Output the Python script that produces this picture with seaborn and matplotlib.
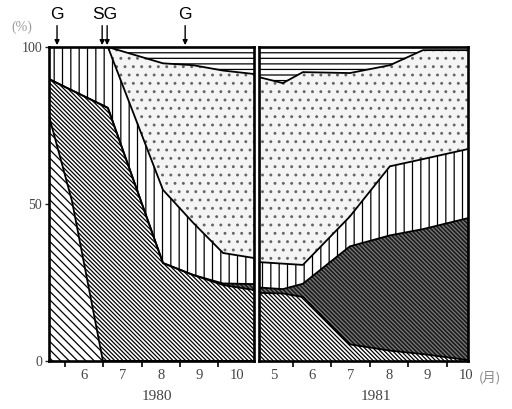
import numpy as np
import matplotlib
matplotlib.use("Agg")
import matplotlib.pyplot as plt
import matplotlib.transforms as mtransforms
import seaborn as sns

# ---------------- data (percent shares) ----------------
# 1980 panel: month position (6.0 = 1 June)
x_1980 = [5.58, 6.18, 6.99, 7.12, 8.56, 9.35, 10.13, 10.94]
a_1980 = [78.0, 51.0, 0.0, 0.0, 0.0, 0.0, 0.0, 0.0]          # sparse diagonal
b_1980 = [11.8, 35.2, 81.4, 80.6, 31.2, 27.4, 24.2, 22.6]    # dense diagonal
d_1980 = [0.0, 0.0, 0.0, 0.0, 0.0, 0.0, 0.5, 1.9]            # dark
c_1980 = [10.2, 13.8, 18.6, 19.4, 23.3, 16.6, 9.7, 8.3]      # vertical lines
s_1980 = [0.0, 0.0, 0.0, 0.0, 40.3, 50.2, 58.1, 58.6]        # dotted
e_1980 = [0.0, 0.0, 0.0, 0.0, 5.2, 5.8, 7.5, 8.6]            # horizontal lines

# 1981 panel
x_1981 = [5.12, 5.74, 6.26, 7.48, 8.52, 9.38, 10.55]
b_1981 = [21.7, 21.5, 20.4, 5.3, 3.3, 2.2, 0.3]
d_1981 = [1.7, 1.4, 4.2, 31.2, 36.7, 39.8, 45.2]
c_1981 = [8.1, 8.1, 6.0, 9.5, 22.0, 22.3, 22.0]
s_1981 = [58.9, 57.5, 61.4, 45.7, 32.2, 34.7, 31.5]
e_1981 = [9.6, 11.5, 8.0, 8.3, 5.8, 1.0, 1.0]

month_labels_1980 = ["6", "7", "8", "9", "10"]
month_labels_1981 = ["5", "6", "7", "8", "9", "10"]
year_labels = ["1980", "1981"]
y_ticks = [0, 50, 100]
markers = [("G", [5.79]), ("SG", [6.97, 7.10]), ("G", [9.14])]

# ---------------- style ----------------
sns.set_theme(style="white")
plt.rcParams["font.family"] = ["Liberation Serif", "DejaVu Sans"]
plt.rcParams["hatch.linewidth"] = 0.9

BS = "\\"
styles = {
    "a": dict(face="white", hatch=BS * 4, hc="black"),
    "b": dict(face="white", hatch=BS * 8, hc="black"),
    "d": dict(face="#1c1c1c", hatch=BS * 8, hc="#7a7a7a"),
    "c": dict(face="white", hatch="||", hc="black"),
    "s": dict(face="#f4f4f4", hatch="..", hc="#666666"),
    "e": dict(face="white", hatch="---", hc="black"),
}

W, H = 512, 409
fig = plt.figure(figsize=(W / 100, H / 100), dpi=100)
ax1 = fig.add_axes([49 / W, 1 - 361 / H, 205 / W, 314 / H])
ax2 = fig.add_axes([259 / W, 1 - 361 / H, 209 / W, 314 / H])

text_col = "#444444"


def draw_panel(ax, x, layers, keys):
    polys = ax.stackplot(x, *layers, colors=[styles[k]["face"] for k in keys], linewidth=0)
    for p, k in zip(polys, keys):
        p.set_hatch(styles[k]["hatch"])
        p.set_edgecolor(styles[k]["hc"])
        p.set_linewidth(0)
    tops = np.cumsum(np.vstack(layers), axis=0)
    for row in tops[:-1]:
        sns.lineplot(x=x, y=row, ax=ax, color="black", lw=1.3, estimator=None, sort=False)
    ax.set_ylim(0, 100)
    for sp in ax.spines.values():
        sp.set_visible(True)
        sp.set_color("black")
        sp.set_linewidth(1.9)
    ax.set_xticks([6, 7, 8, 9, 10])
    ax.set_xticklabels([])
    ax.tick_params(axis="x", which="major", direction="out", length=4, width=1.2,
                   bottom=True, color="black")
    ax.tick_params(axis="x", which="minor", length=0, pad=6, labelsize=10.5,
                   labelcolor=text_col)


draw_panel(ax1, x_1980, [a_1980, b_1980, d_1980, c_1980, s_1980, e_1980],
           ["a", "b", "d", "c", "s", "e"])
draw_panel(ax2, x_1981, [b_1981, d_1981, c_1981, s_1981, e_1981],
           ["b", "d", "c", "s", "e"])

ax1.set_xlim(5.58, 10.94)
ax2.set_xlim(5.12, 10.55)

ax1.set_xticks([6.5, 7.5, 8.5, 9.5, 10.5], minor=True)
ax1.set_xticklabels(month_labels_1980, minor=True)
ax2.set_xticks([5.5, 6.5, 7.5, 8.5, 9.5, 10.5], minor=True)
ax2.set_xticklabels(month_labels_1981, minor=True)

ax1.set_yticks(y_ticks)
ax1.set_yticklabels([str(v) for v in y_ticks])
ax1.set_yticks(range(10, 100, 10), minor=True)
ax1.tick_params(axis="y", which="major", direction="out", length=3, width=1,
                left=True, pad=2, labelsize=10, labelcolor=text_col)
ax1.tick_params(axis="y", which="minor", direction="in", length=3, width=1, left=True)
ax2.set_yticks([])
for ax in (ax1, ax2):
    ax.set_xlabel("")
    ax.set_ylabel("")

# month unit label
trans = mtransforms.blended_transform_factory(ax2.transData, ax2.transAxes)
ax2.text(11.12, -0.055, "(月)", transform=trans, ha="center", va="center",
         fontsize=9.5, color="#888888",
         family=["Noto Sans CJK JP", "DejaVu Sans"], clip_on=False)

# year labels and unit
fig.text(157 / W, 1 - 397 / H, year_labels[0], ha="center", va="center",
         fontsize=11, color=text_col)
fig.text(376 / W, 1 - 397 / H, year_labels[1], ha="center", va="center",
         fontsize=11, color=text_col)
fig.text(22 / W, 1 - 27 / H, "(%)", ha="center", va="center", fontsize=10,
         color="#9a9a9a")

# growth-stage markers
for label, xs in markers:
    for xa in xs:
        ax1.annotate("", xy=(xa, 100.6), xytext=(xa, 106.8),
                     arrowprops=dict(arrowstyle="-|>", color="black", lw=1.0,
                                     mutation_scale=7, shrinkA=0, shrinkB=0),
                     annotation_clip=False)
    ax1.text(np.mean(xs), 110.3, label, ha="center", va="center", fontsize=12.5,
             family=["Liberation Sans", "DejaVu Sans"], color="black", clip_on=False)

fig.savefig("out.png", dpi=100)
